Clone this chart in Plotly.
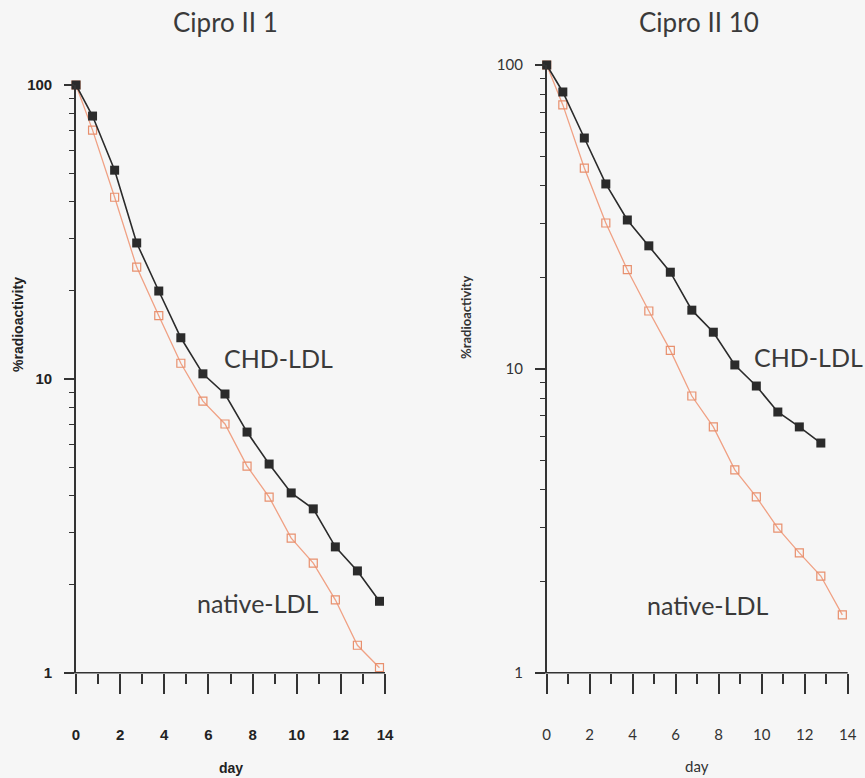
import plotly.graph_objects as go

W, H = 865, 778

# ---------------- data ----------------
days_left = [0, 0.75, 1.75, 2.75, 3.75, 4.75, 5.75, 6.75, 7.75, 8.75, 9.75, 10.75, 11.75, 12.75, 13.75]
chd_left = [100, 78.4, 51.3, 29.0, 19.9, 13.8, 10.4, 8.88, 6.59, 5.13, 4.09, 3.61, 2.68, 2.22, 1.75]
native_left = [100, 70.2, 41.5, 24.0, 16.4, 11.3, 8.4, 7.02, 5.05, 3.96, 2.87, 2.36, 1.77, 1.24, 1.04]

days_right_chd = [0, 0.75, 1.75, 2.75, 3.75, 4.75, 5.75, 6.75, 7.75, 8.75, 9.75, 10.75, 11.75, 12.75]
chd_right = [100, 81.5, 57.5, 40.6, 30.9, 25.4, 20.8, 15.6, 13.2, 10.3, 8.78, 7.21, 6.44, 5.70]
days_right_nat = [0, 0.75, 1.75, 2.75, 3.75, 4.75, 5.75, 6.75, 7.75, 8.75, 9.75, 10.75, 11.75, 12.75, 13.75]
native_right = [100, 73.9, 45.8, 30.2, 21.2, 15.5, 11.5, 8.14, 6.44, 4.65, 3.79, 2.99, 2.48, 2.08, 1.55]

x_major = [0, 2, 4, 6, 8, 10, 12, 14]
x_minor = [1, 3, 5, 7, 9, 11, 13]
y_major = [1, 10, 100]
y_major_text = ["1", "10", "100"]
y_minor = [2, 3, 4, 5, 6, 7, 8, 9, 20, 30, 40, 50, 60, 70, 80, 90]

titles = ["Cipro II 1", "Cipro II 10"]
series_labels = ["CHD-LDL", "native-LDL"]
y_title = "%radioactivity"
x_title = "day"

# ---------------- styling ----------------
BG = "#f6f6f6"
AX = "#333333"
CHD_C = "#2b2b2b"
NAT_LINE = "#f0a184"
NAT_MK = "#e8906e"
TEXT_C = "#3a3a3a"
BOLD_FONT = "Liberation Sans Narrow, Liberation Sans, Arial"
LIGHT_FONT = "Lato, Noto Sans, sans-serif"

def px_x(x):
    return x / W

def px_y(y):
    return 1 - y / H

# plot areas in pixels
L = dict(x0=76, x1=385, y0=672.7, y1=85)
R = dict(x0=546.7, x1=847.7, y0=672.7, y1=65)

fig = go.Figure()

def add_series(xs, ys, xa, ya, kind):
    if kind == "chd":
        fig.add_trace(go.Scatter(
            x=xs, y=ys, xaxis=xa, yaxis=ya, mode="lines+markers",
            line=dict(color=CHD_C, width=1.6),
            marker=dict(symbol="square", size=9, color=CHD_C),
            cliponaxis=False, showlegend=False))
    else:
        fig.add_trace(go.Scatter(
            x=xs, y=ys, xaxis=xa, yaxis=ya, mode="lines+markers",
            line=dict(color=NAT_LINE, width=1.3),
            marker=dict(symbol="square-open", size=8, color=NAT_MK, line=dict(width=1.2, color=NAT_MK)),
            cliponaxis=False, showlegend=False))

add_series(days_left, native_left, "x", "y", "nat")
add_series(days_left, chd_left, "x", "y", "chd")
add_series(days_right_nat, native_right, "x2", "y2", "nat")
add_series(days_right_chd, chd_right, "x2", "y2", "chd")

def xaxis_cfg(area, font):
    return dict(
        domain=[px_x(area["x0"]), px_x(area["x1"])],
        range=[0, 14], showgrid=False, zeroline=False, showline=False,
        tickmode="array", tickvals=x_major, ticktext=[str(v) for v in x_major],
        ticks="outside", ticklen=20, tickwidth=2, tickcolor=AX,
        minor=dict(tickmode="array", tickvals=x_minor, ticks="outside", ticklen=10, tickwidth=1.5, tickcolor=AX),
        tickfont=font, ticklabelstandoff=28, automargin=False, fixedrange=True,
    )

def yaxis_cfg(area, font, anchor):
    return dict(
        domain=[px_y(area["y0"]), px_y(area["y1"])],
        type="log", range=[0, 2], anchor=anchor,
        showgrid=False, zeroline=False, showline=True, linecolor=AX, linewidth=1.6,
        tickmode="array", tickvals=y_major, ticktext=y_major_text,
        ticks="outside", ticklen=10, tickwidth=1.5, tickcolor=AX,
        minor=dict(tickmode="array", tickvals=y_minor, ticks="outside", ticklen=5, tickwidth=1, tickcolor=AX),
        tickfont=font, ticklabelstandoff=9, automargin=False, fixedrange=True,
    )

bold_tick = dict(family=BOLD_FONT, size=15, color="#222222", weight="bold")
light_tick = dict(family=LIGHT_FONT, size=15, color="#333333")

fig.update_layout(
    width=W, height=H,
    margin=dict(l=0, r=0, t=0, b=0),
    paper_bgcolor=BG, plot_bgcolor=BG,
    xaxis=xaxis_cfg(L, bold_tick) | dict(anchor="y"),
    yaxis=yaxis_cfg(L, bold_tick, "x"),
    xaxis2=xaxis_cfg(R, light_tick) | dict(anchor="y2"),
    yaxis2=yaxis_cfg(R, light_tick, "x2"),
)

# x-axis lines (extend slightly left of the y axis)
shapes = []
for area, ext in ((L, 11), (R, 10)):
    shapes.append(dict(type="line", xref="paper", yref="paper",
                       x0=px_x(area["x0"] - ext), x1=px_x(area["x1"]),
                       y0=px_y(area["y0"]), y1=px_y(area["y0"]),
                       line=dict(color=AX, width=1.6)))
fig.update_layout(shapes=shapes)

ann = []
# titles
ann.append(dict(text=titles[0], x=px_x(226), y=px_y(22), font=dict(family=LIGHT_FONT, size=26, color=TEXT_C)))
ann.append(dict(text=titles[1], x=px_x(699), y=px_y(22), font=dict(family=LIGHT_FONT, size=26, color=TEXT_C)))
# series labels
ann.append(dict(text=series_labels[0], x=px_x(278), y=px_y(358), font=dict(family=LIGHT_FONT, size=25, color=TEXT_C)))
ann.append(dict(text=series_labels[1], x=px_x(258), y=px_y(603), font=dict(family=LIGHT_FONT, size=25, color=TEXT_C)))
ann.append(dict(text=series_labels[0], x=px_x(808), y=px_y(357), font=dict(family=LIGHT_FONT, size=25, color=TEXT_C)))
ann.append(dict(text=series_labels[1], x=px_x(708), y=px_y(605), font=dict(family=LIGHT_FONT, size=25, color=TEXT_C)))
# axis titles
ann.append(dict(text="<b>" + x_title + "</b>", x=px_x(231), y=px_y(768), font=dict(family=BOLD_FONT, size=14, color="#222222")))
ann.append(dict(text=x_title, x=px_x(697), y=px_y(766), font=dict(family=LIGHT_FONT, size=15, color="#333333")))
ann.append(dict(text="<b>" + y_title + "</b>", x=px_x(18), y=px_y(325), textangle=-90,
                font=dict(family=BOLD_FONT, size=14, color="#222222")))
ann.append(dict(text="<b>" + y_title + "</b>", x=px_x(466), y=px_y(317), textangle=-90,
                font=dict(family=LIGHT_FONT, size=13, color="#333333")))
for a in ann:
    a.update(xref="paper", yref="paper", showarrow=False, xanchor="center", yanchor="middle")
fig.update_layout(annotations=ann)

fig.write_html("out.html")
